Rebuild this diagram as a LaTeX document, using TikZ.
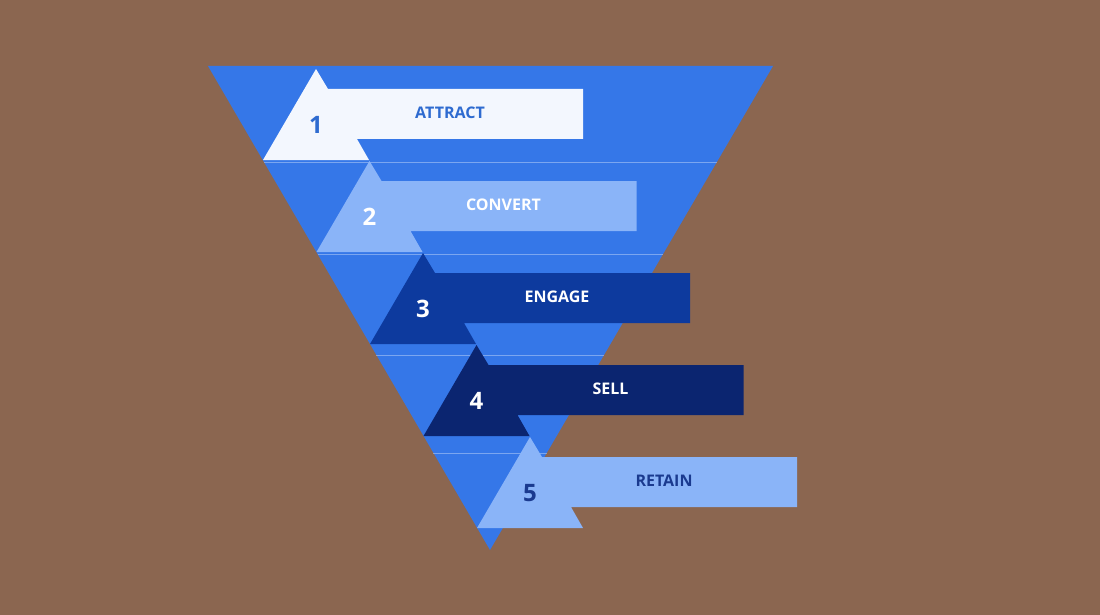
\documentclass[tikz,border=0pt]{standalone}
\usepackage{fontspec}
\setmainfont{Open Sans}
\definecolor{bg}{HTML}{8B6650}
\definecolor{funnel}{HTML}{3577E8}
\definecolor{cA}{HTML}{F3F7FE}
\definecolor{cB}{HTML}{8AB4F8}
\definecolor{cC}{HTML}{0D3A9E}
\definecolor{cD}{HTML}{0B2570}
\definecolor{tA}{HTML}{2E6BD0}
\definecolor{tE}{HTML}{1A3A8F}
\tikzset{num/.style={font=\fontsize{24}{24}\selectfont\bfseries},lab/.style={font=\fontsize{16}{16}\selectfont\bfseries}}
\begin{document}
\begin{tikzpicture}[x=1pt,y=-1pt]
\fill[bg] (0,0) rectangle (1100,615);
\useasboundingbox (0,0) rectangle (1100,615);
\fill[funnel] (208,66) -- (773,66) -- (490,550) -- cycle;
\foreach \y in {162,254,355,453} {
  \pgfmathsetmacro{\xl}{208+0.5826*(\y-66)}
  \pgfmathsetmacro{\xr}{773-0.5847*(\y-66)}
  \draw[white,opacity=0.35,line width=1] (\xl,\y) -- (\xr,\y);
}
\foreach \i/\fc/\tc/\lab in {0/cA/tA/ATTRACT,1/cB/white/CONVERT,2/cC/white/ENGAGE,3/cD/white/SELL,4/cB/tE/RETAIN} {
  \begin{scope}[shift={(53.5*\i,92*\i)}]
    \fill[\fc] (316,69) -- (263,160) -- (369,160) -- (357,139) -- (583,139) -- (583,89) -- (328,89) -- cycle;
    \node[num,text=\tc] (n\i) at (316,125) {\the\numexpr\i+1\relax};
    \node[lab,text=\tc] (l\i) at (450,113) {\lab};
  \end{scope}
}
\end{tikzpicture}
\end{document}
